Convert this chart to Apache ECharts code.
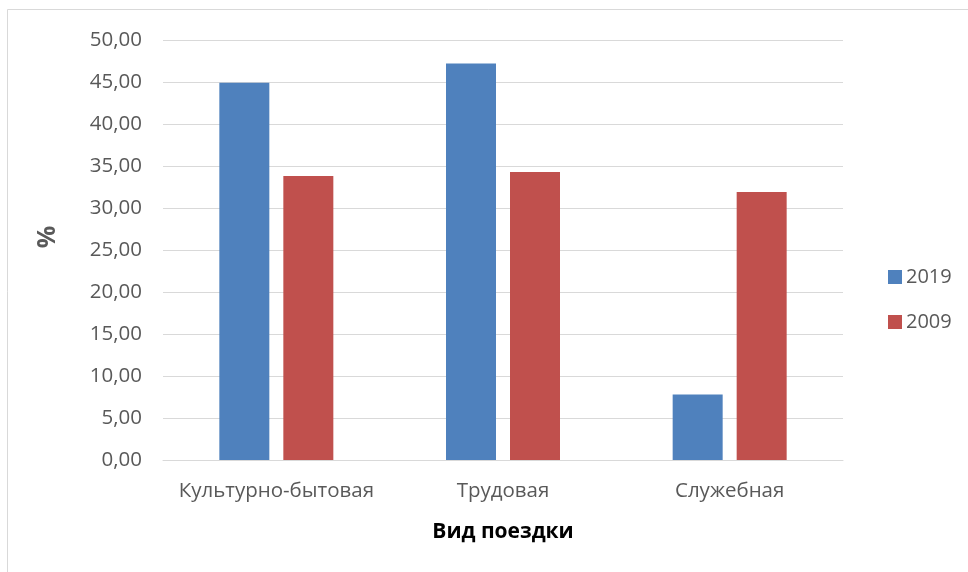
<!DOCTYPE html>
<html>
<head>
<meta charset="utf-8">
<script src="https://cdn.jsdelivr.net/npm/echarts@6/dist/echarts.min.js"></script>
<style>
  html, body { margin: 0; padding: 0; background: #ffffff; }
  #chart { width: 968px; height: 572px; }
</style>
</head>
<body>
<div id="chart"></div>
<script>
// Trip types and the share (%) of each in 2019 and 2009
const categories = ['Культурно-бытовая', 'Трудовая', 'Служебная'];
const values2019 = [44.9, 47.2, 7.8];
const values2009 = [33.8, 34.3, 31.9];
const seriesNames = ['2019', '2009'];
const yTicks = { min: 0, max: 50, interval: 5 };
const xAxisTitle = 'Вид поездки';
const yAxisTitle = '%';

const FONT = '"Open Sans", sans-serif';
const TEXT = '#595959';
const GRID = '#d9d9d9';

const chart = echarts.init(document.getElementById('chart'), null, { renderer: 'canvas' });

chart.setOption({
  backgroundColor: '#ffffff',
  animation: false,
  textStyle: { fontFamily: FONT },
  graphic: [
    {
      type: 'rect',
      shape: { x: 7.5, y: 9.5, width: 980, height: 600 },
      style: { fill: 'none', stroke: GRID, lineWidth: 1 },
      silent: true,
      z: -10
    },
    {
      // rotated y-axis title
      type: 'text',
      x: 48,
      y: 237,
      rotation: Math.PI / 2,
      style: {
        text: yAxisTitle,
        fill: TEXT,
        font: 'bold 25px "Open Sans", sans-serif',
        align: 'center',
        verticalAlign: 'middle'
      },
      silent: true
    }
  ],
  grid: { left: 163, right: 125, top: 40, bottom: 112 },
  legend: {
    orient: 'vertical',
    left: 883,
    top: 262,
    itemWidth: 14,
    itemHeight: 14,
    itemGap: 25,
    icon: 'rect',
    textStyle: { color: TEXT, fontSize: 20, fontFamily: FONT, padding: [0, 0, 0, -1] },
    data: seriesNames
  },
  xAxis: {
    type: 'category',
    data: categories,
    name: xAxisTitle,
    nameLocation: 'middle',
    nameGap: 62,
    nameTextStyle: { color: '#000000', fontSize: 21, fontWeight: 'bold', fontFamily: FONT },
    axisLine: { lineStyle: { color: GRID, width: 1 } },
    axisTick: { show: false },
    axisLabel: { color: TEXT, fontSize: 20.5, margin: 21, interval: 0, fontFamily: FONT }
  },
  yAxis: {
    type: 'value',
    min: yTicks.min,
    max: yTicks.max,
    interval: yTicks.interval,
    axisLine: { show: false },
    axisTick: { show: false },
    splitLine: { lineStyle: { color: GRID, width: 1 } },
    axisLabel: {
      color: TEXT,
      fontSize: 20.5,
      margin: 21,
      fontFamily: FONT,
      formatter: v => v.toFixed(2).replace('.', ',')
    }
  },
  series: [
    {
      name: seriesNames[0],
      type: 'bar',
      data: values2019,
      barWidth: 50,
      barGap: '28%',
      itemStyle: { color: '#4f81bd' }
    },
    {
      name: seriesNames[1],
      type: 'bar',
      data: values2009,
      barWidth: 50,
      barGap: '28%',
      itemStyle: { color: '#c0504d' }
    }
  ]
});
</script>
</body>
</html>
